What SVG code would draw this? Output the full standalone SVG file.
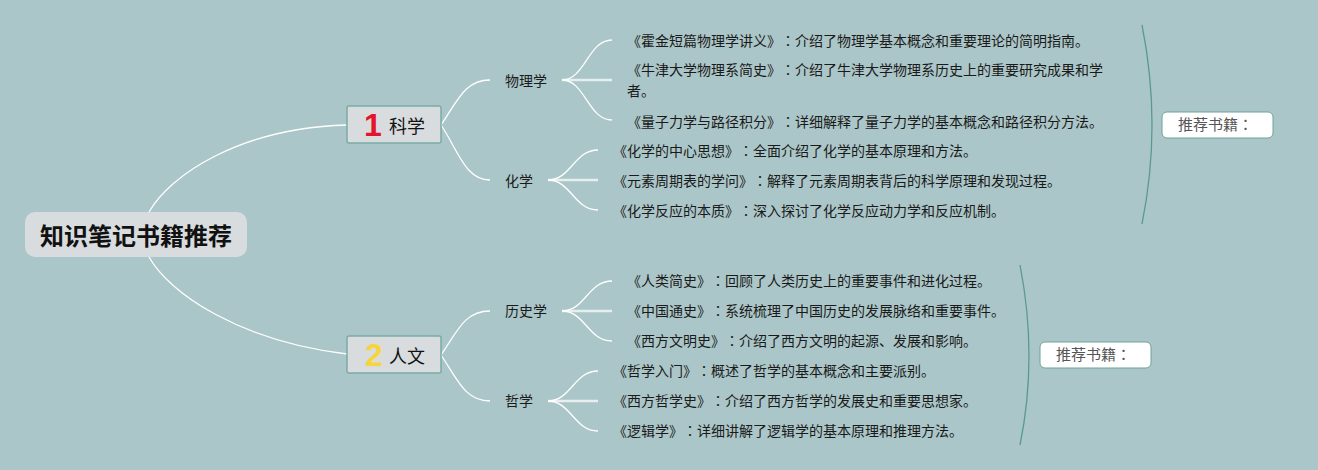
<svg xmlns="http://www.w3.org/2000/svg" width="1318" height="470" viewBox="0 0 1318 470">
<style>
text{text-spacing-trim:space-all;font-kerning:none}
.bg{fill:#abc6c8}
.cjk{font-family:"Noto Sans CJK SC","Noto Sans",sans-serif}
.c{font-family:"Noto Sans CJK JP","Noto Sans CJK SC",sans-serif}
.root{fill:#d8dcdf}
.rootT{font-size:24px;font-weight:bold;fill:#111}
.main{fill:#d8dcdf;stroke:#7aaca5;stroke-width:1.5}
.mainT{font-size:18px;fill:#111}
.num{font-family:"Liberation Sans",Arial,sans-serif;font-size:32px;font-weight:900}
.sub{font-size:14px;fill:#1a1a1a}
.leaf{font-size:14px;fill:#1a1a1a}
.ln{fill:none;stroke:#ffffff;stroke-width:1.3}
.mid{fill:none;stroke:#ffffff;stroke-opacity:0.7;stroke-width:2.5}
.brace{fill:none;stroke:#5a9991;stroke-width:1.3}
.callout{fill:#ffffff;stroke:#6fa39b;stroke-width:1}
.calloutT{font-size:15px;fill:#555555}
</style>
<rect class="bg" x="0" y="0" width="1318" height="470"/>

<g id="connectors">
  <path class="ln" d="M149,212 C170,175 240,128 347,125"/>
  <path class="ln" d="M149,257 C170,294 240,341 347,354"/>
  <path class="ln" d="M441,125 C458,100 465,80 490,80"/>
  <path class="ln" d="M441,125 C458,150 465,180 490,180"/>
  <path class="ln" d="M441,355 C458,330 465,311 490,311"/>
  <path class="ln" d="M441,355 C458,380 465,401 490,401"/>
  <path class="ln" d="M562,80 C585,80 588,40 612,40"/>
  <path class="mid" d="M562,80 L612,80"/>
  <path class="ln" d="M562,80 C585,80 588,120 612,120"/>
  <path class="ln" d="M548,180 C571,180 574,150 598,150"/>
  <path class="mid" d="M548,180 L598,180"/>
  <path class="ln" d="M548,180 C571,180 574,210 598,210"/>
  <path class="ln" d="M562,311 C585,311 588,281 612,281"/>
  <path class="mid" d="M562,311 L612,311"/>
  <path class="ln" d="M562,311 C585,311 588,341 612,341"/>
  <path class="ln" d="M548,401 C571,401 574,371 598,371"/>
  <path class="mid" d="M548,401 L598,401"/>
  <path class="ln" d="M548,401 C571,401 574,431 598,431"/>
  <path class="brace" d="M1142,25 Q1162,125 1142,224"/>
  <path class="brace" d="M1020,265 Q1038,357 1020,445"/>
</g>

<g id="root">
  <rect class="root" x="25" y="212" width="222" height="45" rx="10"/>
  <text class="cjk rootT" x="136" y="245" text-anchor="middle">知识笔记书籍推荐</text>
</g>

<g id="node-science">
  <rect class="main" x="347" y="106" width="94" height="37" rx="2"/>
  <text class="num" x="373" y="136" text-anchor="middle" fill="#e3142c">1</text>
  <text class="cjk mainT" x="389" y="133">科学</text>
</g>
<g id="node-humanities">
  <rect class="main" x="347" y="336" width="94" height="37" rx="2"/>
  <text class="num" x="374" y="366" text-anchor="middle" fill="#f6d53b">2</text>
  <text class="cjk mainT" x="389" y="363">人文</text>
</g>

<g id="node-physics"><text class="cjk sub" x="505" y="86">物理学</text></g>
<g id="node-chemistry"><text class="cjk sub" x="505" y="186">化学</text></g>
<g id="node-history"><text class="cjk sub" x="505" y="316">历史学</text></g>
<g id="node-philosophy"><text class="cjk sub" x="505" y="406">哲学</text></g>

<g id="leaf-p1"><text class="cjk leaf" x="627" y="46">《霍金短篇物理学讲义》<tspan class="c">：</tspan>介绍了物理学基本概念和重要理论的简明指南。</text></g>
<g id="leaf-p2"><text class="cjk leaf" x="627" y="75">《牛津大学物理系简史》<tspan class="c">：</tspan>介绍了牛津大学物理系历史上的重要研究成果和学</text><text class="cjk leaf" x="627" y="96">者。</text></g>
<g id="leaf-p3"><text class="cjk leaf" x="627" y="127">《量子力学与路径积分》<tspan class="c">：</tspan>详细解释了量子力学的基本概念和路径积分方法。</text></g>
<g id="leaf-c1"><text class="cjk leaf" x="613" y="156">《化学的中心思想》<tspan class="c">：</tspan>全面介绍了化学的基本原理和方法。</text></g>
<g id="leaf-c2"><text class="cjk leaf" x="613" y="186">《元素周期表的学问》<tspan class="c">：</tspan>解释了元素周期表背后的科学原理和发现过程。</text></g>
<g id="leaf-c3"><text class="cjk leaf" x="613" y="216">《化学反应的本质》<tspan class="c">：</tspan>深入探讨了化学反应动力学和反应机制。</text></g>
<g id="leaf-h1"><text class="cjk leaf" x="627" y="286">《人类简史》<tspan class="c">：</tspan>回顾了人类历史上的重要事件和进化过程。</text></g>
<g id="leaf-h2"><text class="cjk leaf" x="627" y="316">《中国通史》<tspan class="c">：</tspan>系统梳理了中国历史的发展脉络和重要事件。</text></g>
<g id="leaf-h3"><text class="cjk leaf" x="627" y="346">《西方文明史》<tspan class="c">：</tspan>介绍了西方文明的起源、发展和影响。</text></g>
<g id="leaf-ph1"><text class="cjk leaf" x="613" y="376">《哲学入门》<tspan class="c">：</tspan>概述了哲学的基本概念和主要派别。</text></g>
<g id="leaf-ph2"><text class="cjk leaf" x="613" y="406">《西方哲学史》<tspan class="c">：</tspan>介绍了西方哲学的发展史和重要思想家。</text></g>
<g id="leaf-ph3"><text class="cjk leaf" x="613" y="436">《逻辑学》<tspan class="c">：</tspan>详细讲解了逻辑学的基本原理和推理方法。</text></g>

<g id="summary-science">
  <rect class="callout" x="1162" y="112" width="111" height="26" rx="5"/>
  <text class="cjk calloutT" x="1178" y="130">推荐书籍<tspan class="c">：</tspan></text>
</g>
<g id="summary-humanities">
  <rect class="callout" x="1040" y="342" width="111" height="26" rx="5"/>
  <text class="cjk calloutT" x="1056" y="360">推荐书籍<tspan class="c">：</tspan></text>
</g>
</svg>
